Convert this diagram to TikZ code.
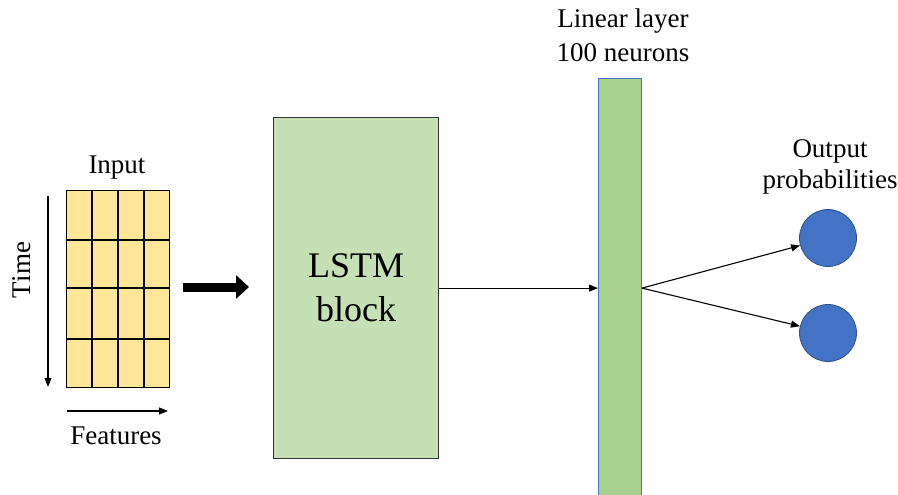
\documentclass[tikz,border=0pt]{standalone}
\usepackage{fontspec}
\setmainfont{Liberation Serif}
\usetikzlibrary{arrows.meta,calc}
\definecolor{gridfill}{HTML}{FFE699}
\definecolor{lstmfill}{HTML}{C5E0B4}
\definecolor{linfill}{HTML}{A9D18E}
\definecolor{linedge}{HTML}{4472C4}
\definecolor{outfill}{HTML}{4472C4}
\definecolor{outedge}{HTML}{2F528F}
\begin{document}
\begin{tikzpicture}[x=1pt,y=-1pt,
  lbl/.style={font=\fontsize{27}{33}\selectfont, inner sep=0pt},
  conn/.style={line width=1.1pt, -{Triangle[length=9pt,width=7pt]}},
  cell/.style={line width=1.2pt}]
\useasboundingbox (0,0) rectangle (898,495);

% input grid: 4 time steps x 4 features
\node[draw, line width=1.2pt, fill=gridfill, minimum width=103pt, minimum height=197pt,
      inner sep=0pt, anchor=north west] (input) at (66,190) {};
\foreach \x in {92,118,144} \draw[cell] (\x,190) -- (\x,387);
\foreach \y in {240,288,339} \draw[cell] (66,\y) -- (169,\y);
\node[lbl, anchor=base] (inlbl) at (117,173) {Input};

% axes of the input
\coordinate (t0) at (48,196);
\coordinate (t1) at (48,387);
\draw[conn] (t0) -- (t1);
\node[lbl, rotate=90] (timelbl) at (22,270) {Time};
\coordinate (f0) at (67,411);
\coordinate (f1) at (168,411);
\draw[conn] (f0) -- (f1);
\node[lbl, anchor=base] (featlbl) at (116,444) {Features};

% thick arrow into the LSTM
\coordinate (a0) at (183,287);
\coordinate (a1) at (249,287);
\draw[line width=9pt, -{Triangle[length=13pt,width=23pt]}] (a0) -- (a1);

% LSTM block
\node[draw=black!80, line width=1.2pt, fill=lstmfill, minimum width=165pt, minimum height=341pt,
      inner sep=0pt, anchor=north west,
      font=\fontsize{36}{44}\selectfont, align=center] (lstm) at (273,117) {LSTM\\block};

% linear layer
\node[draw=linedge, line width=1pt, fill=linfill, minimum width=43pt, minimum height=425pt,
      inner sep=0pt, anchor=north west] (linear) at (598,78) {};
\node[lbl, align=center, anchor=base, font=\fontsize{27}{34}\selectfont] (linlbl) at (623,62)
  {Linear layer\\100 neurons};

% outputs
\node[circle, fill=outfill, draw=outedge, line width=0.8pt, minimum size=57pt, inner sep=0pt] (o1) at (828,238) {};
\node[circle, fill=outfill, draw=outedge, line width=0.8pt, minimum size=57pt, inner sep=0pt] (o2) at (828,333) {};
\node[lbl, align=center, anchor=base, font=\fontsize{27}{31}\selectfont] (outlbl) at (830,188)
  {Output\\probabilities};

% connectors
\draw[conn] (lstm.east) -- (lstm.east -| linear.west);
\coordinate (fan) at (lstm.east -| linear.east);
\draw[conn] (fan) -- (o1);
\draw[conn] (fan) -- (o2);
\end{tikzpicture}
\end{document}
